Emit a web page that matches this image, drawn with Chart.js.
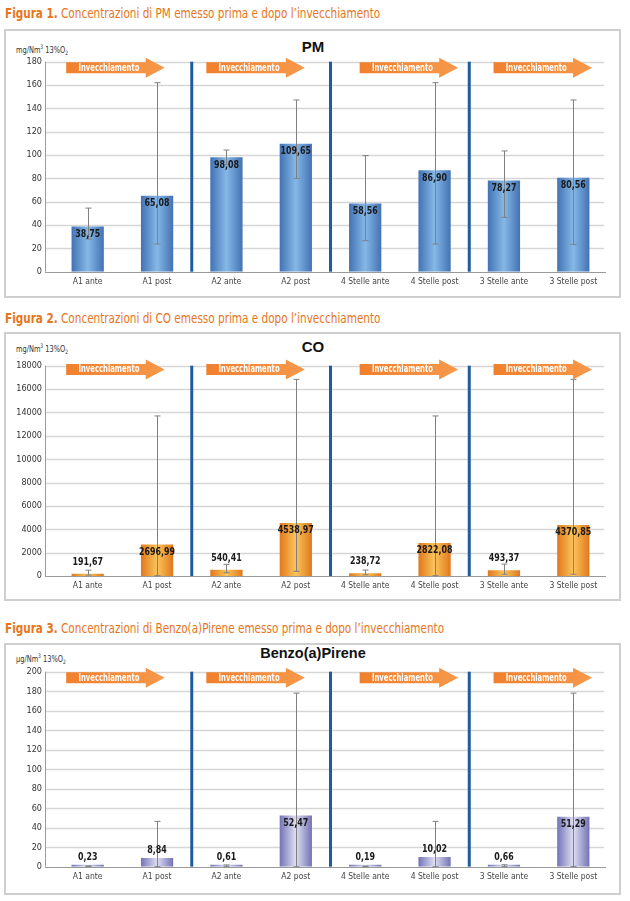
<!DOCTYPE html>
<html>
<head>
<meta charset="utf-8">
<script src="https://cdn.jsdelivr.net/npm/chart.js@4.4.1/dist/chart.umd.min.js"></script>
<style>
  body { margin: 0; background: #fff; width: 630px; height: 901px; position: relative; overflow: hidden;
         font-family: "DejaVu Sans Condensed", "DejaVu Sans", sans-serif; }
  .fig { position: absolute; left: 5px; font-size: 14px; line-height: 16px; color: #e6761c; white-space: nowrap;
         transform: scaleX(0.83); transform-origin: 0 0; }
  .fig b { font-weight: bold; }
  .box { position: absolute; left: 4px; width: 617px; border: 2px solid #cfcfcf; box-sizing: border-box; }
  .cw { position: absolute; left: 0; }
  .ttl { position: absolute; left: 0; width: 626px; text-align: center; line-height: 18px;
         font: bold 15px "Liberation Sans", Arial, sans-serif; color: #111; }
  .unit { position: absolute; left: 16px; font-size: 9px; line-height: 12px; color: #333; white-space: nowrap;
          transform: scaleX(0.82); transform-origin: 0 0; }
  .unit sup { font-size: 6px; vertical-align: 4px; }
  .unit sub { font-size: 6px; vertical-align: -2px; }
</style>
</head>
<body>
<div class="fig" style="top:5px"><b>Figura 1.</b> Concentrazioni di PM emesso prima e dopo l’invecchiamento</div>
<div class="box" style="top:29px;height:269px"></div>
<div class="ttl" style="top:38px">PM</div>
<div class="unit" style="top:41px">mg/Nm<sup>3</sup> 13%O<sub>2</sub></div>
<div class="cw" style="top:29px"><canvas id="pm" width="630" height="268"></canvas></div>

<div class="fig" style="top:310px"><b>Figura 2.</b> Concentrazioni di CO emesso prima e dopo l’invecchiamento</div>
<div class="box" style="top:332px;height:269px"></div>
<div class="ttl" style="top:338px">CO</div>
<div class="unit" style="top:340px">mg/Nm<sup>3</sup> 13%O<sub>2</sub></div>
<div class="cw" style="top:332px"><canvas id="co" width="630" height="268"></canvas></div>

<div class="fig" style="top:620px"><b>Figura 3.</b> Concentrazioni di Benzo(a)Pirene emesso prima e dopo l’invecchiamento</div>
<div class="box" style="top:643px;height:252px"></div>
<div class="ttl" style="top:645px;font-size:14.5px">Benzo(a)Pirene</div>
<div class="unit" style="top:650px">µg/Nm<sup>3</sup> 13%O<sub>2</sub></div>
<div class="cw" style="top:643px"><canvas id="bap" width="630" height="251"></canvas></div>

<script>
const categories = ['A1 ante', 'A1 post', 'A2 ante', 'A2 post', '4 Stelle ante', '4 Stelle post', '3 Stelle ante', '3 Stelle post'];

// PM (mg/Nm3 13%O2), error bars read as low/high ends
const pmValues = [38.75, 65.08, 98.08, 109.65, 58.56, 86.90, 78.27, 80.56];
const pmLow = [28, 23.7, 92, 80, 26.6, 23.7, 46.6, 23.4];
const pmHigh = [54.5, 162, 104.3, 147.2, 99.5, 162, 103.5, 147.2];

// CO (mg/Nm3 13%O2)
const coValues = [191.67, 2696.99, 540.41, 4538.97, 238.72, 2822.08, 493.37, 4370.85];
const coLow = [80, 30, 280, 400, 100, 30, 150, 150];
const coHigh = [500, 13700, 1000, 16830, 510, 13700, 1020, 16830];

// Benzo(a)Pirene (ug/Nm3 13%O2)
const bapValues = [0.23, 8.84, 0.61, 52.47, 0.19, 10.02, 0.66, 51.29];
const bapLow = [0, 0, 0, 0, 0, 0, 0, 0.3];
const bapHigh = [0.9, 46.5, 1.8, 178, 0.7, 46.5, 2, 178];

// arrow starts, in category units
const arrowStarts = [-0.31, 1.71, 3.92, 5.85];

const FONT = '"DejaVu Sans Condensed", "DejaVu Sans", sans-serif';
const BAR_FRAC = 0.93 * 0.5;

const fmt = v => v.toFixed(2).replace('.', ',');

// condensed text on the canvas
function narrowText(ctx, text, x, y, sx) {
  ctx.save();
  ctx.translate(x, y);
  ctx.scale(sx, 1);
  ctx.fillText(text, 0, 0);
  ctx.restore();
}

function barFill(c, colors) {
  const chart = c.chart;
  if (!chart.chartArea || c.dataIndex === undefined) return colors[1];
  const x = chart.scales.x;
  const px = x.getPixelForValue(c.dataIndex);
  const half = (x.getPixelForValue(1) - x.getPixelForValue(0)) * BAR_FRAC / 2;
  const g = chart.ctx.createLinearGradient(px - half, 0, px + half, 0);
  g.addColorStop(0, colors[0]);
  g.addColorStop(0.5, colors[1]);
  g.addColorStop(1, colors[0]);
  return g;
}

const decor = {
  id: 'decor',
  beforeDatasetsDraw(chart, args, o) {
    const { ctx, chartArea: a, scales: { x, y } } = chart;
    const axisX = a.left - 8;
    ctx.save();
    // gridlines
    y.ticks.forEach(t => {
      const py = Math.round(y.getPixelForValue(t.value)) + 0.5;
      ctx.strokeStyle = t.value === 0 ? '#9a9a9a' : '#d6d6d6';
      ctx.lineWidth = t.value === 0 ? 1.2 : 1.5;
      ctx.beginPath();
      ctx.moveTo(axisX, py);
      ctx.lineTo(t.value === 0 ? a.right - 2 : a.right - 4, py);
      ctx.stroke();
    });
    // y axis line
    ctx.strokeStyle = '#9a9a9a';
    ctx.lineWidth = 1;
    ctx.beginPath();
    ctx.moveTo(axisX + 0.5, a.top);
    ctx.lineTo(axisX + 0.5, a.bottom);
    ctx.stroke();
    // group dividers
    ctx.strokeStyle = '#1d5c9f';
    ctx.lineWidth = 3;
    [1, 3, 5].forEach(i => {
      const px = (x.getPixelForValue(i) + x.getPixelForValue(i + 1)) / 2;
      ctx.beginPath();
      ctx.moveTo(px, a.top);
      ctx.lineTo(px, a.bottom);
      ctx.stroke();
    });
    // "Invecchiamento" arrows
    const step = x.getPixelForValue(1) - x.getPixelForValue(0);
    arrowStarts.forEach(s => {
      const x0 = x.getPixelForValue(0) + s * step;
      const len = 1.42 * step, head = 19;
      const t0 = a.top + o.arrowDy;
      const g = ctx.createLinearGradient(x0, 0, x0 + len, 0);
      g.addColorStop(0, '#f0802e');
      g.addColorStop(1, '#f7984a');
      ctx.fillStyle = g;
      ctx.beginPath();
      ctx.moveTo(x0, t0);
      ctx.lineTo(x0 + len - head, t0);
      ctx.lineTo(x0 + len - head, t0 - 4.5);
      ctx.lineTo(x0 + len, t0 + 5.5);
      ctx.lineTo(x0 + len - head, t0 + 15.5);
      ctx.lineTo(x0 + len - head, t0 + 11);
      ctx.lineTo(x0, t0 + 11);
      ctx.closePath();
      ctx.fill();
      ctx.fillStyle = '#fff';
      ctx.font = 'bold 10px ' + FONT;
      ctx.textAlign = 'center';
      ctx.textBaseline = 'middle';
      narrowText(ctx, 'Invecchiamento', x0 + (len - head) / 2 + 3, t0 + 5.8, 0.76);
    });
    ctx.restore();
  },
  afterDatasetsDraw(chart, args, o) {
    const { ctx, scales: { x, y } } = chart;
    const meta = chart.getDatasetMeta(0);
    ctx.save();
    // error bars
    ctx.strokeStyle = '#808080';
    ctx.lineWidth = 1;
    o.low.forEach((lo, i) => {
      const px = Math.round(x.getPixelForValue(i)) + 0.5;
      const yl = y.getPixelForValue(lo), yh = y.getPixelForValue(o.high[i]);
      ctx.beginPath();
      ctx.moveTo(px, yl); ctx.lineTo(px, yh);
      ctx.moveTo(px - 3, yl); ctx.lineTo(px + 3, yl);
      ctx.moveTo(px - 3, yh); ctx.lineTo(px + 3, yh);
      ctx.stroke();
    });
    // value labels
    ctx.fillStyle = '#1a1a1a';
    ctx.font = 'bold 11px ' + FONT;
    ctx.textAlign = 'center';
    ctx.textBaseline = 'middle';
    meta.data.forEach((bar, i) => {
      const h = bar.base - bar.y;
      const ty = h >= 20 ? bar.y + 7.5 : bar.y - o.aboveGap;
      narrowText(ctx, fmt(chart.data.datasets[0].data[i]), bar.x, ty, 0.8);
    });
    ctx.restore();
  }
};

function makeChart(id, values, low, high, max, step, colors, pad) {
  return new Chart(document.getElementById(id), {
    type: 'bar',
    data: {
      labels: categories,
      datasets: [{
        data: values,
        backgroundColor: c => barFill(c, colors),
        borderWidth: 0,
        barPercentage: 0.93,
        categoryPercentage: 0.5,
        minBarLength: 2,
      }],
    },
    options: {
      responsive: false,
      animation: false,
      layout: { padding: { top: pad.top, bottom: pad.bottom, left: 0, right: 22 } },
      plugins: {
        legend: { display: false },
        tooltip: { enabled: false },
        decor: { low, high, aboveGap: pad.aboveGap, arrowDy: pad.arrowDy },
      },
      scales: {
        x: {
          grid: { display: false, drawTicks: false },
          border: { display: false },
          ticks: { font: { family: FONT, size: 8.5 }, color: '#444', padding: 5, maxRotation: 0, autoSkip: false },
          afterFit: s => { s.height = 20; },
        },
        y: {
          min: 0,
          max,
          grid: { display: false, drawTicks: false },
          border: { display: false },
          ticks: { stepSize: step, padding: 11, font: { family: FONT, size: 9 }, color: '#333', callback: v => String(v) },
          afterFit: s => { s.width = 53; },
        },
      },
    },
    plugins: [decor],
  });
}

makeChart('pm', pmValues, pmLow, pmHigh, 180, 20, ['#4272b4', '#86b8e6'], { top: 32.7, bottom: 5.3, aboveGap: 9, arrowDy: 0.6 });
makeChart('co', coValues, coLow, coHigh, 18000, 2000, ['#e0781c', '#fbc45c'], { top: 33.7, bottom: 4, aboveGap: 12, arrowDy: -1.7 });
makeChart('bap', bapValues, bapLow, bapHigh, 200, 20, ['#7373b6', '#dedef3'], { top: 28.7, bottom: 7.3, aboveGap: 7.5, arrowDy: 0.6 });
</script>
</body>
</html>
